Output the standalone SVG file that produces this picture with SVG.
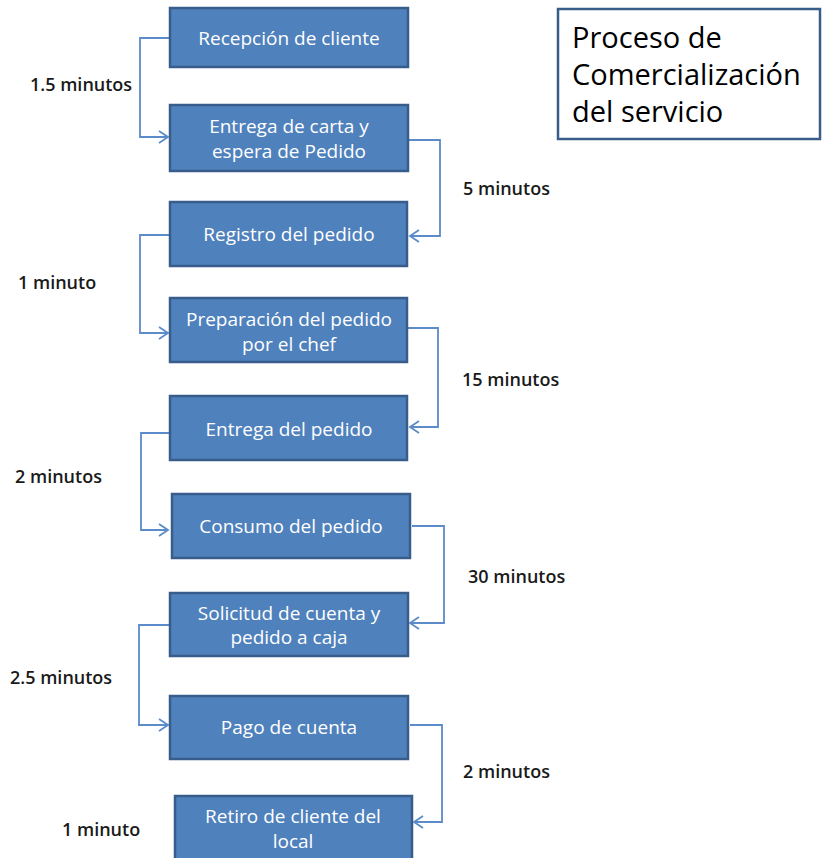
<svg xmlns="http://www.w3.org/2000/svg" width="822" height="858" viewBox="0 0 822 858">
<style>
.box{fill:#4F81BD;stroke:#385D8A;stroke-width:2.5}
.bt{font-family:"Open Sans","Liberation Sans",Arial,sans-serif;font-size:19px;fill:#FFFFFF;text-anchor:middle}
.lbl{font-family:"Open Sans","Liberation Sans",Arial,sans-serif;font-size:18px;font-weight:600;fill:#1a1a1a}
.con{fill:none;stroke:#5B8BC8;stroke-width:1.8}
.title{font-family:"Open Sans","Liberation Sans",Arial,sans-serif;font-size:29px;fill:#000000}
</style>
<defs>
<marker id="arr" markerWidth="14" markerHeight="14" refX="11" refY="7" orient="auto" markerUnits="userSpaceOnUse">
<path d="M2,1 L11,7 L2,13" fill="none" stroke="#5B8BC8" stroke-width="1.8"/>
</marker>
</defs>
<rect width="822" height="858" fill="#FFFFFF"/>
<g id="connectors">
<path class="con" d="M170,38 H140 V137 H168" marker-end="url(#arr)"/>
<path class="con" d="M408,140 H440 V236 H410" marker-end="url(#arr)"/>
<path class="con" d="M170,235 H140 V333 H168" marker-end="url(#arr)"/>
<path class="con" d="M408,328 H438 V427 H410" marker-end="url(#arr)"/>
<path class="con" d="M170,433 H141 V530 H168" marker-end="url(#arr)"/>
<path class="con" d="M412,526 H444 V623 H410" marker-end="url(#arr)"/>
<path class="con" d="M170,625 H139 V725 H168" marker-end="url(#arr)"/>
<path class="con" d="M410,725 H442 V822 H414" marker-end="url(#arr)"/>
</g>
<g id="labels">
<text class="lbl" x="30" y="91">1.5 minutos</text>
<text class="lbl" x="463" y="195">5 minutos</text>
<text class="lbl" x="18" y="289">1 minuto</text>
<text class="lbl" x="462" y="386">15 minutos</text>
<text class="lbl" x="15" y="483">2 minutos</text>
<text class="lbl" x="468" y="583">30 minutos</text>
<text class="lbl" x="10" y="684">2.5 minutos</text>
<text class="lbl" x="463" y="778">2 minutos</text>
<text class="lbl" x="62" y="836">1 minuto</text>
</g>
<g id="n1"><rect class="box" x="170" y="8" width="238" height="59"/><text class="bt" x="289" y="45">Recepción de cliente</text></g>
<g id="n2"><rect class="box" x="170" y="105" width="238" height="66"/><text class="bt" x="289" y="133">Entrega de carta y</text><text class="bt" x="289" y="158">espera de Pedido</text></g>
<g id="n3"><rect class="box" x="170" y="202" width="237" height="64"/><text class="bt" x="289" y="241">Registro del pedido</text></g>
<g id="n4"><rect class="box" x="170" y="298" width="237" height="64"/><text class="bt" x="289" y="326">Preparación del pedido</text><text class="bt" x="289" y="351">por el chef</text></g>
<g id="n5"><rect class="box" x="170" y="396" width="237" height="64"/><text class="bt" x="289" y="436">Entrega del pedido</text></g>
<g id="n6"><rect class="box" x="172" y="494" width="238" height="64"/><text class="bt" x="291" y="533">Consumo del pedido</text></g>
<g id="n7"><rect class="box" x="170" y="593" width="238" height="63"/><text class="bt" x="289" y="620">Solicitud de cuenta y</text><text class="bt" x="289" y="644">pedido a caja</text></g>
<g id="n8"><rect class="box" x="170" y="696" width="238" height="63"/><text class="bt" x="289" y="734">Pago de cuenta</text></g>
<g id="n9"><rect class="box" x="175" y="796" width="237" height="66"/><text class="bt" x="293" y="823">Retiro de cliente del</text><text class="bt" x="293" y="848">local</text></g>
<g id="title"><rect x="558" y="9" width="262" height="130" fill="#FFFFFF" stroke="#385D8A" stroke-width="2.5"/>
<text class="title" x="572" y="48">Proceso de</text>
<text class="title" x="572" y="85">Comercialización</text>
<text class="title" x="572" y="122">del servicio</text></g>
</svg>
